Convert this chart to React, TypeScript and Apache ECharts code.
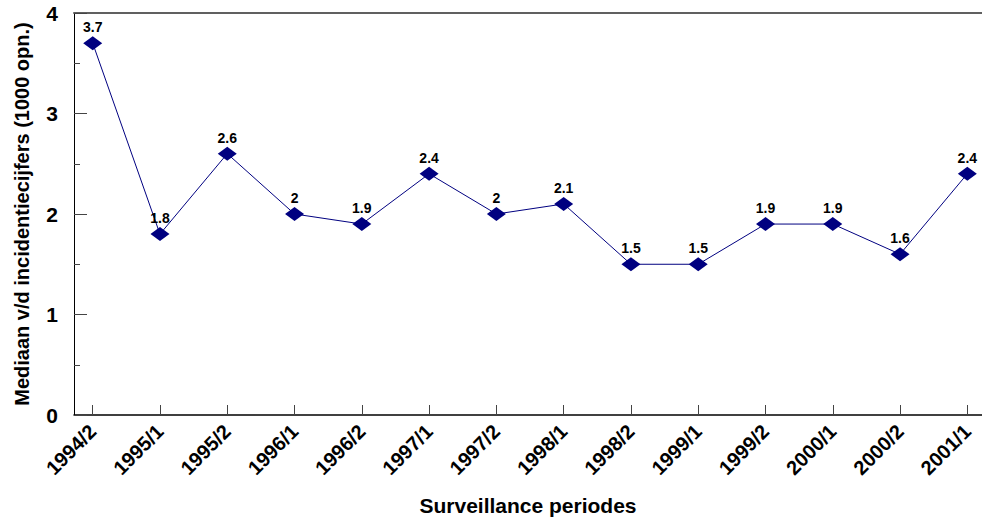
import React, { useEffect, useRef } from "react";
import * as echarts from "echarts";

const categories = [
  "1994/2", "1995/1", "1995/2", "1996/1", "1996/2", "1997/1", "1997/2",
  "1998/1", "1998/2", "1999/1", "1999/2", "2000/1", "2000/2", "2001/1",
];
const values = [3.7, 1.8, 2.6, 2, 1.9, 2.4, 2, 2.1, 1.5, 1.5, 1.9, 1.9, 1.6, 2.4];
const yTicks = [0, 1, 2, 3, 4];

const FONT = "'Liberation Sans', Arial, sans-serif";

export default function App() {
  const ref = useRef<HTMLDivElement>(null);
  useEffect(() => {
    if (!ref.current) return;
    const chart = echarts.init(ref.current, null, { renderer: "svg" });
    const idx = categories.map((_, i) => i);
    const xMin = -0.278;
    const xMax = 13.218;
    chart.setOption({
      animation: false,
      backgroundColor: "#ffffff",
      grid: { left: 74, right: 0, top: 13, bottom: 108, containLabel: false },
      xAxis: [
        {
          type: "value",
          min: xMin,
          max: xMax,
          position: "bottom",
          name: "Surveillance periodes",
          nameLocation: "middle",
          nameGap: 80,
          nameTextStyle: { fontFamily: FONT, fontWeight: "bold", fontSize: 21, color: "#000" },
          splitLine: { show: false },
          axisLine: { show: true, onZero: false, lineStyle: { color: "#000", width: 1.5 } },
          axisTick: {
            show: true,
            inside: true,
            length: 10,
            customValues: idx,
            lineStyle: { color: "#444", width: 1 },
          },
          axisLabel: {
            customValues: idx,
            rotate: 45,
            margin: 13,
            fontFamily: FONT,
            fontWeight: "bold",
            fontSize: 20,
            color: "#000",
            formatter: (v: number) => categories[Math.round(v)] ?? "",
          },
        },
        {
          type: "value",
          min: xMin,
          max: xMax,
          position: "top",
          splitLine: { show: false },
          axisLine: { show: true, onZero: false, lineStyle: { color: "#606060", width: 2 } },
          axisTick: { show: false },
          axisLabel: { show: false },
        },
      ],
      yAxis: [
        {
          type: "value",
          min: 0,
          max: 4,
          interval: 1,
          name: "Mediaan v/d incidentiecijfers (1000 opn.)",
          nameLocation: "middle",
          nameGap: 42,
          nameTextStyle: { fontFamily: FONT, fontWeight: "bold", fontSize: 20, color: "#000" },
          splitLine: { show: false },
          axisLine: { show: true, onZero: false, lineStyle: { color: "#000", width: 1 } },
          axisTick: { show: true, inside: true, length: 13, lineStyle: { color: "#444" } },
          axisLabel: {
            margin: 16,
            fontFamily: FONT,
            fontWeight: "bold",
            fontSize: 21,
            color: "#000",
            customValues: yTicks,
          },
        },
        {
          type: "value",
          min: 0,
          max: 4,
          interval: 0.5,
          position: "left",
          splitLine: { show: false },
          axisLine: { show: false, onZero: false },
          axisTick: { show: true, inside: true, length: 6, lineStyle: { color: "#444" } },
          axisLabel: { show: false },
        },
      ],
      series: [
        {
          type: "line",
          data: values.map((v, i) => [i, v]),
          symbol: "diamond",
          symbolSize: [19, 14],
          lineStyle: { color: "#000080", width: 1 },
          itemStyle: { color: "#000080" },
          label: {
            show: true,
            position: "top",
            distance: 2,
            fontFamily: FONT,
            fontWeight: "bold",
            fontSize: 14,
            color: "#000",
            formatter: (p: any) => String(p.value[1]),
          },
        },
      ],
    });
    return () => chart.dispose();
  }, []);
  return (
    <div
      ref={ref}
      style={{ position: "fixed", left: 0, top: 0, width: 982, height: 523, background: "#fff" }}
    />
  );
}
